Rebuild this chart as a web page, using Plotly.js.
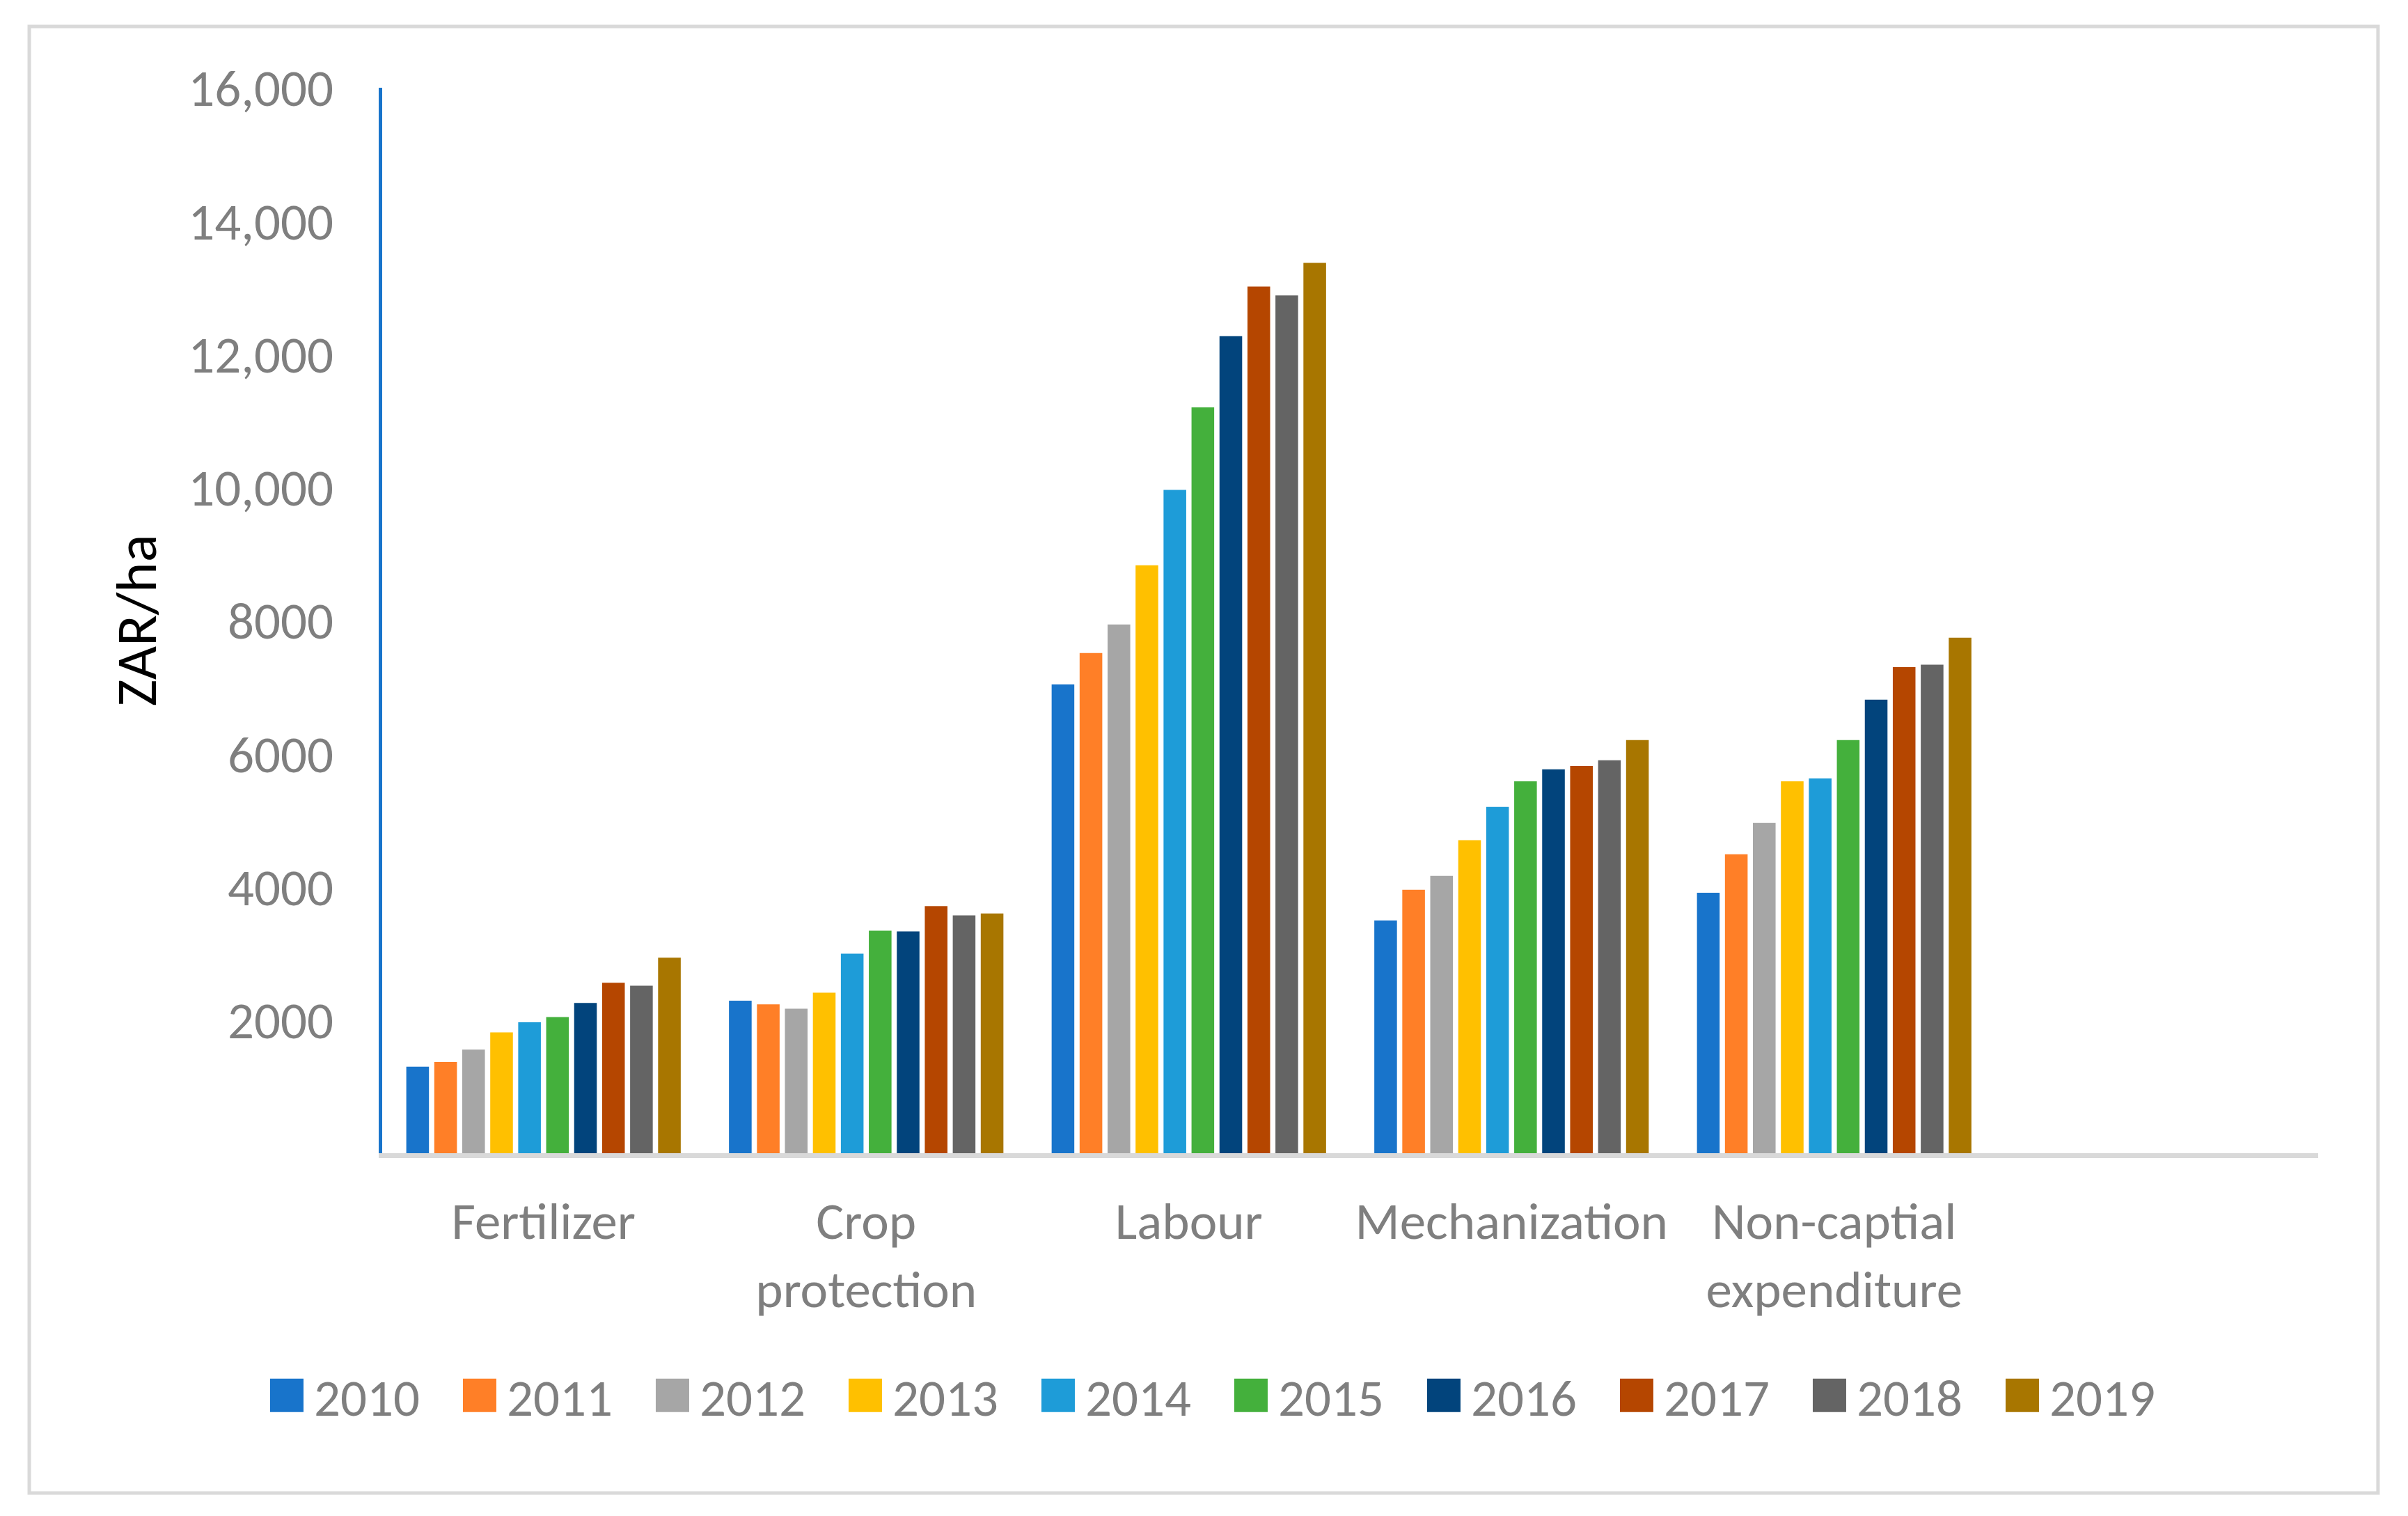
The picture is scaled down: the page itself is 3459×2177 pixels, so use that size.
<!DOCTYPE html>
<html>
<head>
<meta charset="utf-8">
<script src="https://cdn.plot.ly/plotly-3.0.1.min.js"></script>
<style>
  html, body { margin: 0; padding: 0; background: #fff; }
  #chart { width: 3459px; height: 2177px; }
</style>
</head>
<body>
<div id="chart"></div>
<script>
'use strict';

// categories on the x axis
var categories = ['Fertilizer', 'Crop<br>protection', 'Labour', 'Mechanization', 'Non-captial<br>expenditure'];
var years = ['2010', '2011', '2012', '2013', '2014', '2015', '2016', '2017', '2018', '2019'];

// ZAR/ha per year, in category order
var y2010 = [1300, 2290, 7040, 3495, 3910];
var y2011 = [1370, 2235, 7510, 3955, 4490];
var y2012 = [1555, 2170, 7940, 4165, 4960];
var y2013 = [1815, 2410, 8830, 4700, 5585];
var y2014 = [1965, 2995, 9960, 5200, 5630];
var y2015 = [2045, 3340, 11200, 5585, 6205];
var y2016 = [2255, 3330, 12270, 5765, 6810];
var y2017 = [2560, 3710, 13015, 5815, 7300];
var y2018 = [2515, 3570, 12880, 5900, 7335];
var y2019 = [2935, 3600, 13370, 6205, 7740];

var colors = ['#1874CB', '#FF7F27', '#A6A6A6', '#FFC000', '#1E9CD8',
              '#44B03C', '#02447C', '#B54600', '#646464', '#A87600'];

var tickVals = [2000, 4000, 6000, 8000, 10000, 12000, 14000, 16000];
var tickText = ['2000', '4000', '6000', '8000', '10,000', '12,000', '14,000', '16,000'];

var font = 'Carlito, Lato, sans-serif';
var grey = '#7F7F7F';

var series = [y2010, y2011, y2012, y2013, y2014, y2015, y2016, y2017, y2018, y2019];
var data = series.map(function (vals, i) {
  return {
    type: 'bar',
    name: years[i],
    x: categories,
    y: vals,
    marker: { color: colors[i], line: { width: 0 } },
    hoverinfo: 'x+y+name'
  };
});

var layout = {
  width: 3459,
  height: 2177,
  paper_bgcolor: '#fff',
  plot_bgcolor: '#fff',
  margin: { l: 549, r: 129, t: 126, b: 521, pad: 0 },
  barmode: 'group',
  bargap: 0.133,
  bargroupgap: 0.19,
  font: { family: font, size: 75, color: grey },
  xaxis: {
    type: 'category',
    range: [-0.5, 5.5],
    showgrid: false,
    zeroline: false,
    showline: true,
    linecolor: '#D9D9D9',
    linewidth: 7,
    ticks: '',
    ticklabelstandoff: 26,
    tickfont: { family: font, size: 75, color: grey },
    fixedrange: true
  },
  yaxis: {
    range: [0, 16000],
    showgrid: false,
    zeroline: false,
    showline: true,
    linecolor: '#1874CB',
    linewidth: 5,
    ticks: '',
    tickvals: tickVals,
    ticktext: tickText,
    ticklabelstandoff: 50,
    tickfont: { family: font, size: 75, color: grey },
    title: { text: 'ZAR/ha', font: { family: font, size: 83, color: '#000' }, standoff: 20 },
    fixedrange: true
  },
  showlegend: true,
  legend: {
    orientation: 'h',
    x: -0.0633,
    xanchor: 'left',
    y: -0.2275,
    yanchor: 'middle',
    itemwidth: 68,
    entrywidth: 194,
    entrywidthmode: 'pixels',
    traceorder: 'normal',
    font: { family: font, size: 75, color: grey },
    bgcolor: 'rgba(0,0,0,0)'
  },
  shapes: [{
    type: 'rect',
    xref: 'paper', yref: 'paper',
    x0: -0.1823, x1: 1.0309,
    y0: -0.319, y1: 1.0575,
    line: { color: '#D9D9D9', width: 5 },
    fillcolor: 'rgba(0,0,0,0)',
    layer: 'below'
  }]
};

Plotly.newPlot('chart', data, layout, { displayModeBar: false, responsive: false }).then(function (gd) {
  // enlarge the small legend swatches to match the reference
  gd.querySelectorAll('.legend .legendpoints path').forEach(function (p) {
    var t = p.getAttribute('transform') || '';
    p.setAttribute('transform', t + ' scale(4)');
  });
});
</script>
</body>
</html>
